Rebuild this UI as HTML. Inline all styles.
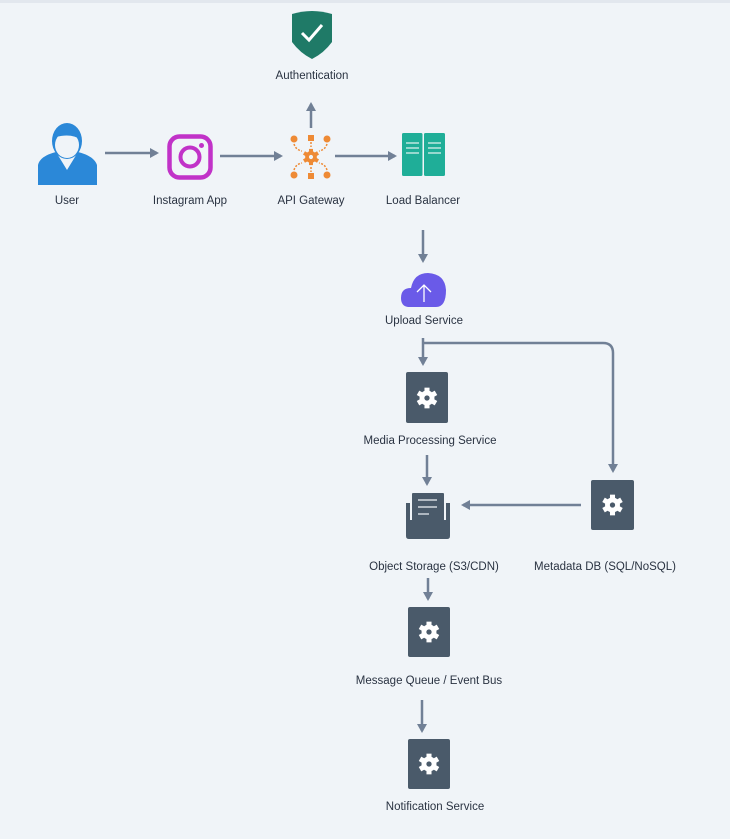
<!DOCTYPE html>
<html><head><meta charset="utf-8"><style>
html,body{margin:0;padding:0;background:#f0f4f8;}
svg{display:block}
text{font-family:"Liberation Sans",sans-serif;font-size:11.5px;fill:#2a3342;text-anchor:middle;}
</style></head><body>
<svg width="730" height="839" viewBox="0 0 730 839" xmlns="http://www.w3.org/2000/svg">
<defs>
<marker id="a" markerWidth="10" markerHeight="10" refX="7" refY="5" orient="auto" markerUnits="userSpaceOnUse">
<path d="M0,0 L9,5 L0,10 z" fill="#718096"/></marker>
<g id="gear">
<g fill="#fff">
<circle r="6.5"/>
<rect x="-2.2" y="-9" width="4.4" height="18"/>
<rect x="-2.2" y="-9" width="4.4" height="18" transform="rotate(60)"/>
<rect x="-2.2" y="-9" width="4.4" height="18" transform="rotate(120)"/>
</g>
<circle r="2.3" fill="#4a5a6a"/>
</g>
</defs>
<rect x="0" y="0" width="730" height="3" fill="#e2e7ee"/>
<g stroke="#718096" stroke-width="2.5" fill="none" marker-end="url(#a)">
<line x1="105" y1="153" x2="157" y2="153"/>
<line x1="220" y1="156" x2="281" y2="156"/>
<line x1="335" y1="156" x2="395" y2="156"/>
<line x1="311" y1="128" x2="311" y2="104"/>
<line x1="423" y1="230" x2="423" y2="261"/>
<line x1="423" y1="338" x2="423" y2="364"/>
<path d="M423 343 H603 Q613 343 613 353 V471"/>
<line x1="427" y1="455" x2="427" y2="484"/>
<line x1="581" y1="505" x2="463" y2="505"/>
<line x1="428" y1="578" x2="428" y2="599"/>
<line x1="422" y1="700" x2="422" y2="731"/>
</g>
<!-- Auth shield -->
<path d="M292 14 Q312 8 332 14 V42 Q324 53 312 59 Q300 53 292 42 Z" fill="#1f7a67"/>
<path d="M302 33 L309 40 L322 25" stroke="#fff" stroke-width="3" fill="none"/>
<text x="312" y="79">Authentication</text>
<!-- User -->
<path d="M38 185 V165 Q40 156 56 152 L67 170 L78 152 Q94 156 97 165 V185 Z" fill="#2b88d8"/>
<ellipse cx="67" cy="141" rx="15" ry="18" fill="#2b88d8"/>
<ellipse cx="67" cy="145" rx="12" ry="13" fill="#f0f4f8"/>
<path d="M53 140 Q54 126 67 125 Q80 126 81 140 Q72 133 56 137 Z" fill="#2b88d8"/>
<text x="67" y="204">User</text>
<!-- Instagram -->
<rect x="169.5" y="136.5" width="41" height="41" rx="10" fill="none" stroke="#c132c8" stroke-width="4.5"/>
<circle cx="190" cy="157" r="9.5" fill="none" stroke="#c132c8" stroke-width="4"/>
<circle cx="201.5" cy="145.5" r="2.5" fill="#c132c8"/>
<text x="190" y="204">Instagram App</text>
<!-- API gateway -->
<g fill="#ee8a35" stroke="#ee8a35">
<circle cx="294" cy="139" r="3.5" stroke="none"/><circle cx="327" cy="139" r="3.5" stroke="none"/>
<circle cx="294" cy="175" r="3.5" stroke="none"/><circle cx="327" cy="175" r="3.5" stroke="none"/>
<rect x="308" y="135" width="6" height="6" stroke="none"/><rect x="308" y="173" width="6" height="6" stroke="none"/>
<path d="M294 144 Q296 150 302 151 M327 144 Q325 150 319 151 M294 170 Q296 164 302 163 M327 170 Q325 164 319 163 M311 142 V147 M311 167 V172" fill="none" stroke-width="1.5" stroke-dasharray="2 1.5"/>
</g>
<g transform="translate(311,157) scale(0.9)"><g fill="#ee8a35"><circle r="6.5"/><rect x="-2.2" y="-9" width="4.4" height="18"/><rect x="-2.2" y="-9" width="4.4" height="18" transform="rotate(60)"/><rect x="-2.2" y="-9" width="4.4" height="18" transform="rotate(120)"/></g><circle r="2.3" fill="#f0f4f8"/></g>
<text x="311" y="204">API Gateway</text>
<!-- Load balancer -->
<rect x="402" y="133" width="20.5" height="43" rx="1.5" fill="#1fae98"/>
<rect x="424" y="133" width="21" height="43" rx="1.5" fill="#1fae98"/>
<g stroke="#e6f5f2" stroke-width="1.2">
<line x1="406" y1="143" x2="419" y2="143"/><line x1="406" y1="148" x2="419" y2="148"/><line x1="406" y1="153" x2="419" y2="153"/>
<line x1="428" y1="143" x2="441" y2="143"/><line x1="428" y1="148" x2="441" y2="148"/><line x1="428" y1="153" x2="441" y2="153"/>
</g>
<text x="423" y="204">Load Balancer</text>
<!-- Upload cloud -->
<path d="M408 307 Q401 306 401 298 Q401 288 411 288 Q414 273 428 273 Q445 274 446 290 Q446 307 436 307 Z" fill="#6a5ae8"/>
<path d="M424 302 V285 M417 292 L424 285 L431 292" stroke="#fff" stroke-width="1.3" fill="none"/>
<text x="424" y="324">Upload Service</text>
<!-- Media -->
<rect x="406" y="372" width="42" height="51" rx="2" fill="#4a5a6a"/>
<use href="#gear" transform="translate(427,398) scale(1.15)"/>
<text x="430" y="444">Media Processing Service</text>
<!-- Object storage -->
<path d="M406 503 H410 V520 H446 V503 H450 V536 Q450 539 447 539 H409 Q406 539 406 536 Z" fill="#4a5a6a"/>
<rect x="412" y="493" width="32" height="32" rx="1" fill="#4a5a6a"/>
<rect x="421" y="525" width="14" height="5" fill="#4a5a6a"/>
<g stroke="#f0f4f8" stroke-width="1.2"><line x1="418" y1="500" x2="437" y2="500"/><line x1="418" y1="507" x2="437" y2="507"/><line x1="418" y1="514" x2="429" y2="514"/></g>
<text x="434" y="570">Object Storage (S3/CDN)</text>
<!-- Metadata -->
<rect x="591" y="480" width="43" height="50" rx="2" fill="#4a5a6a"/>
<use href="#gear" transform="translate(612.5,505) scale(1.15)"/>
<text x="605" y="570">Metadata DB (SQL/NoSQL)</text>
<!-- MQ -->
<rect x="408" y="607" width="42" height="50" rx="2" fill="#4a5a6a"/>
<use href="#gear" transform="translate(429,632) scale(1.15)"/>
<text x="429" y="684">Message Queue / Event Bus</text>
<!-- Notification -->
<rect x="408" y="739" width="42" height="50" rx="2" fill="#4a5a6a"/>
<use href="#gear" transform="translate(429,764) scale(1.15)"/>
<text x="435" y="810">Notification Service</text>
</svg>
</body></html>
